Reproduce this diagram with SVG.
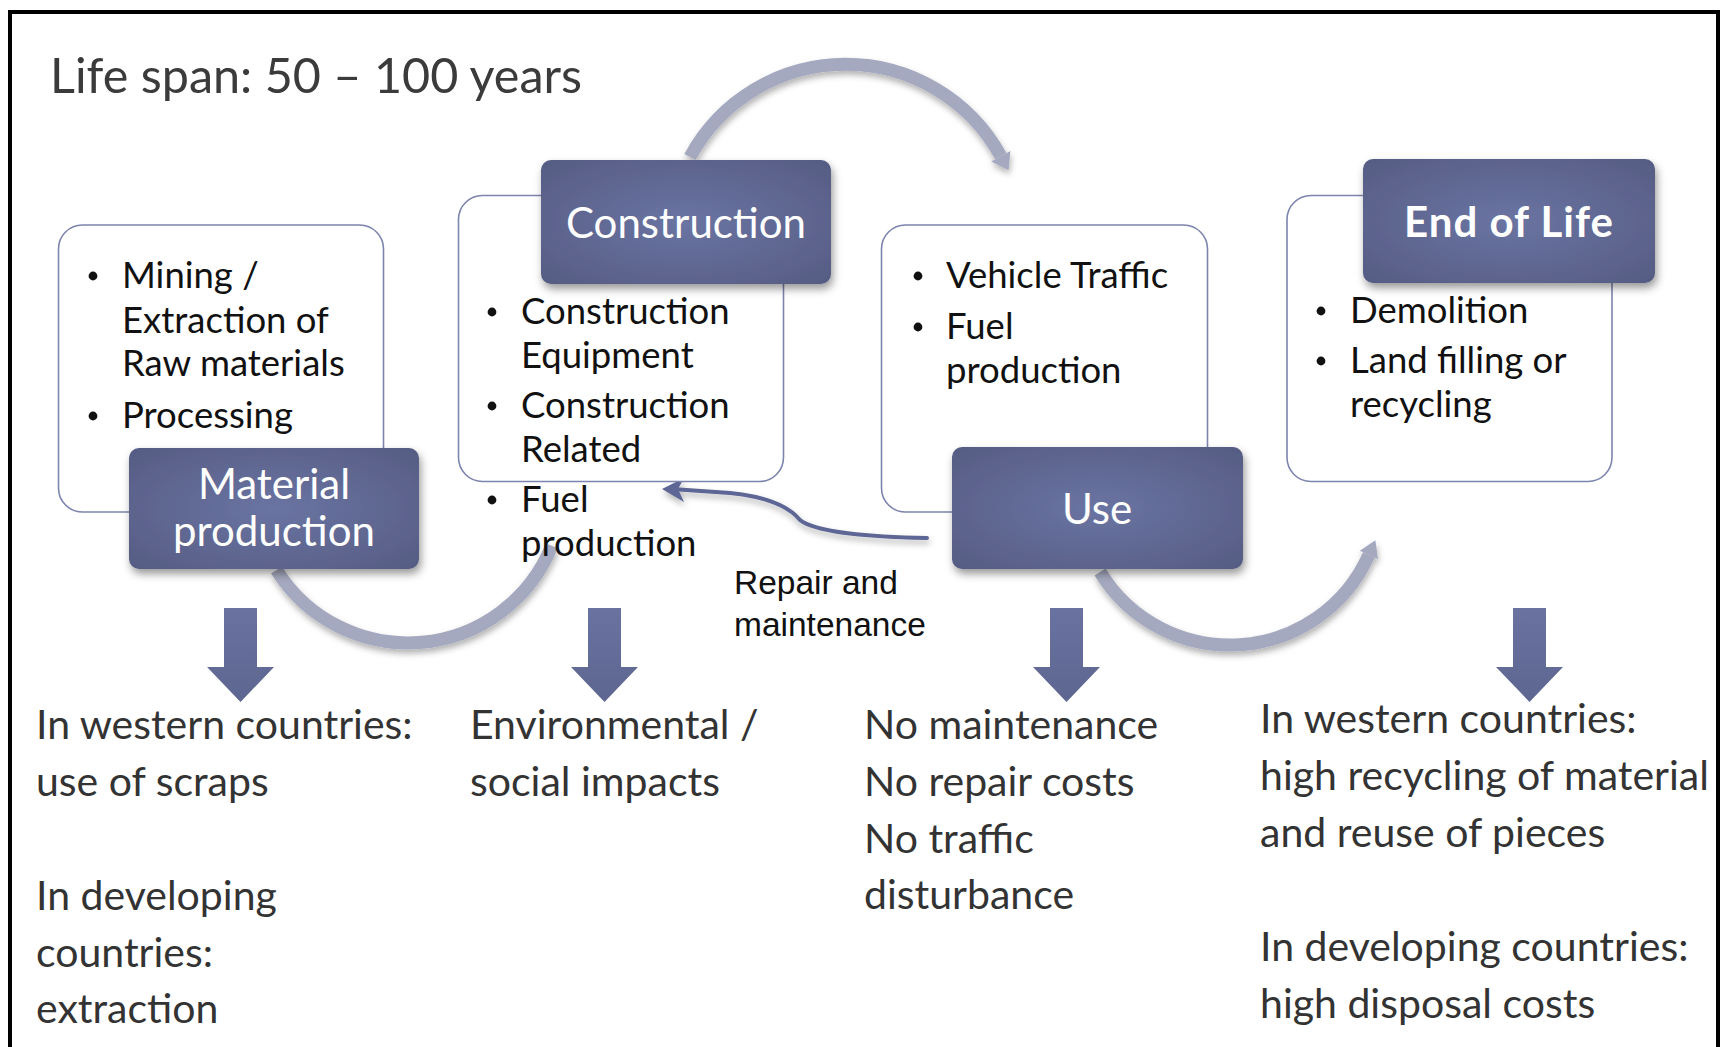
<svg xmlns="http://www.w3.org/2000/svg" width="1725" height="1047" viewBox="0 0 1725 1047">
<style>
.frame{fill:none;stroke:#000;stroke-width:4}
.title{font-family:Lato,"Open Sans",sans-serif;font-size:48.5px;fill:#3b3b3b}
.card{fill:#fff;stroke:#7d84ae;stroke-width:1.6}
.head{fill:url(#dg);filter:url(#sh)}
.ht{font-family:Lato,"Open Sans",sans-serif;font-size:42px;fill:#fff;text-anchor:middle}
.bt{font-family:Lato,"Open Sans",sans-serif;font-size:36.5px;fill:#111}
.dot{fill:#111}
.bot{font-family:Lato,"Open Sans",sans-serif;font-size:41px;fill:#333}
.rm{font-family:"Liberation Sans",Arial,sans-serif;font-size:33.5px;fill:#111}
.cyc{fill:none;stroke:#a5a9bf;stroke-width:13}
.cyh{fill:#a5a9bf}
.rep{fill:none;stroke:#5d6694;stroke-width:4;stroke-linecap:round}
.down{fill:url(#ag)}
</style>
<defs>
<radialGradient id="dg" cx="50%" cy="50%" r="70%">
<stop offset="0" stop-color="#6a74a2"/>
<stop offset="1" stop-color="#565c83"/>
</radialGradient>
<linearGradient id="ag" x1="0" y1="0" x2="0" y2="1">
<stop offset="0" stop-color="#6a73a0"/>
<stop offset="1" stop-color="#5d6690"/>
</linearGradient>
<filter id="sh" x="-10%" y="-10%" width="125%" height="135%">
<feDropShadow dx="2" dy="5" stdDeviation="4" flood-color="#000" flood-opacity="0.4"/>
</filter>
<filter id="ash" x="-10%" y="-10%" width="125%" height="135%">
<feDropShadow dx="1" dy="4" stdDeviation="3" flood-color="#000" flood-opacity="0.3"/>
</filter>
</defs>
<rect width="1725" height="1047" fill="#fff"/>
<path class="frame" d="M10 1060 V12 H1718 V1060"/>
<text class="title" x="50" y="93">Life span: 50 – 100 years</text>

<g id="connectors">
<g filter="url(#ash)">
<path class="cyc" d="M276.6 570.1 A155 155 0 0 0 551.8 545.8"/>
<path class="cyc" d="M690 157 A177 177 0 0 1 1000.8 156.2"/>
<polygon class="cyh" points="1010.4,150.9 991.2,161.5 1008.6,170.2"/>
<path class="cyc" d="M1100.1 572 A152 152 0 0 0 1368.9 554.8"/>
<polygon class="cyh" points="1378,558.9 1359.8,550.7 1375.4,540.2"/>
</g>
<g filter="url(#ash)">
<path class="rep" d="M927 538 C870 537 815 532 800 520 C790 508 770 497 730 493 L672 489"/>
<polygon fill="#5d6694" points="662,489 684,478 678,489 684,502"/>
</g>
<path class="down" d="M224 608 H257 V667 H274 L240.5 702 L207 667 H224 Z"/>
<path class="down" d="M588 608 H621 V667 H638 L604.5 702 L571 667 H588 Z"/>
<path class="down" d="M1050 608 H1083 V667 H1100 L1066.5 702 L1033 667 H1050 Z"/>
<path class="down" d="M1513 608 H1546 V667 H1563 L1529.5 702 L1496 667 H1513 Z"/>
</g>

<g id="material">
<rect class="card" x="58.5" y="225" width="325" height="287" rx="24"/>
<circle class="dot" cx="93" cy="276" r="4.4"/>
<text class="bt" x="122" y="288">Mining /</text>
<text class="bt" x="122" y="333">Extraction of</text>
<text class="bt" x="122" y="376">Raw materials</text>
<circle class="dot" cx="93" cy="416" r="4.4"/>
<text class="bt" x="122" y="428">Processing</text>
<rect class="head" x="129" y="448" width="290" height="121" rx="10"/>
<text class="ht" x="274" y="499">Material</text>
<text class="ht" x="274" y="546">production</text>
</g>

<g id="construction">
<rect class="card" x="458.5" y="195.5" width="325" height="286" rx="24"/>
<circle class="dot" cx="492" cy="312" r="4.4"/>
<text class="bt" x="521" y="324">Construction</text>
<text class="bt" x="521" y="368">Equipment</text>
<circle class="dot" cx="492" cy="406" r="4.4"/>
<text class="bt" x="521" y="418">Construction</text>
<text class="bt" x="521" y="462">Related</text>
<circle class="dot" cx="492" cy="500" r="4.4"/>
<text class="bt" x="521" y="512">Fuel</text>
<text class="bt" x="521" y="556">production</text>
<rect class="head" x="541" y="160" width="290" height="124" rx="10"/>
<text class="ht" x="686" y="238">Construction</text>
</g>

<g id="use">
<rect class="card" x="881.5" y="225" width="326" height="287" rx="24"/>
<circle class="dot" cx="918" cy="276" r="4.4"/>
<text class="bt" x="946" y="288">Vehicle Traffic</text>
<circle class="dot" cx="918" cy="327" r="4.4"/>
<text class="bt" x="946" y="339">Fuel</text>
<text class="bt" x="946" y="383">production</text>
<rect class="head" x="952" y="447" width="291" height="122" rx="10"/>
<text class="ht" x="1097" y="524">Use</text>
</g>

<g id="endoflife">
<rect class="card" x="1287" y="195.5" width="325" height="286" rx="24"/>
<circle class="dot" cx="1321" cy="311" r="4.4"/>
<text class="bt" x="1350" y="323">Demolition</text>
<circle class="dot" cx="1321" cy="361" r="4.4"/>
<text class="bt" x="1350" y="373">Land filling or</text>
<text class="bt" x="1350" y="417">recycling</text>
<rect class="head" x="1363" y="159" width="292" height="124" rx="10"/>
<text class="ht" x="1509" y="237" font-weight="bold" font-size="45" letter-spacing="1">End of Life</text>
</g>

<g id="repair-label">
<text class="rm" x="734" y="594">Repair and</text>
<text class="rm" x="734" y="636">maintenance</text>
</g>

<g id="notes">
<text class="bot" x="36" y="739">In western countries:</text>
<text class="bot" x="36" y="796">use of scraps</text>
<text class="bot" x="36" y="910">In developing</text>
<text class="bot" x="36" y="967">countries:</text>
<text class="bot" x="36" y="1023">extraction</text>
<text class="bot" x="470" y="739">Environmental /</text>
<text class="bot" x="470" y="796">social impacts</text>
<text class="bot" x="864" y="739">No maintenance</text>
<text class="bot" x="864" y="796">No repair costs</text>
<text class="bot" x="864" y="853">No traffic</text>
<text class="bot" x="864" y="909">disturbance</text>
<text class="bot" x="1260" y="733">In western countries:</text>
<text class="bot" x="1260" y="790">high recycling of material</text>
<text class="bot" x="1260" y="847">and reuse of pieces</text>
<text class="bot" x="1260" y="961">In developing countries:</text>
<text class="bot" x="1260" y="1018">high disposal costs</text>
</g>
</svg>
